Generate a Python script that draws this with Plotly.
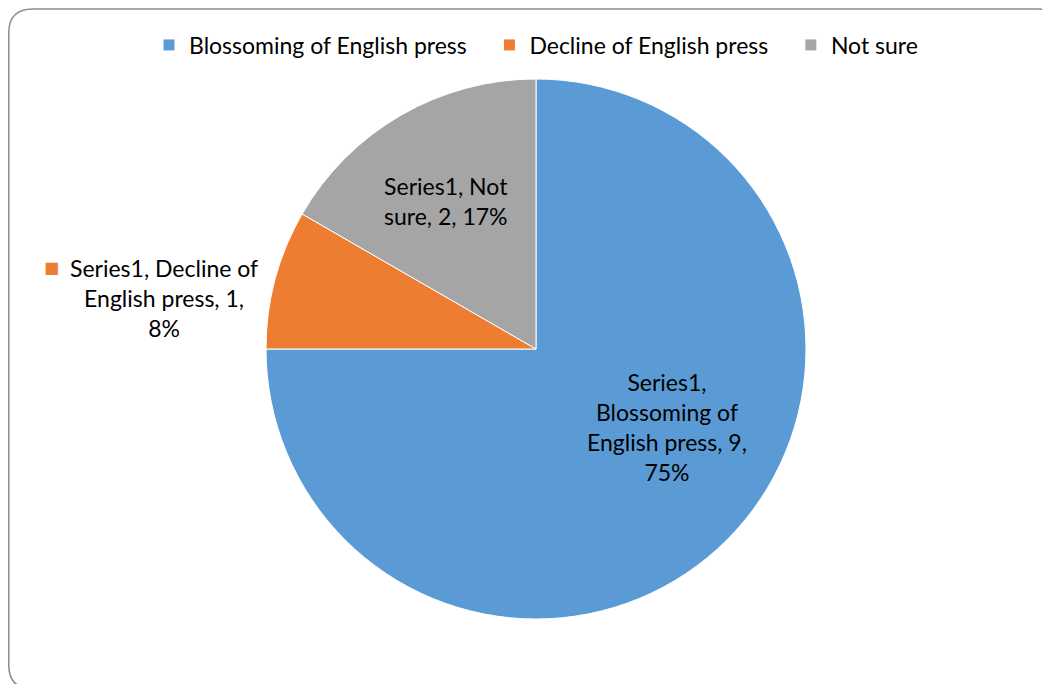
import plotly.graph_objects as go

categories = ["Blossoming of English press", "Decline of English press", "Not sure"]
values = [9, 1, 2]
series_name = "Series1"
colors = ["#5B9BD5", "#ED7D31", "#A5A5A5"]

W, H = 1050, 684
OFF = 8  # page body margin offset
FONT = "Lato, 'Open Sans', sans-serif"
FS = 23

total = sum(values)
pcts = [round(v / total * 100) for v in values]


def px(x):
    return (x - OFF) / W


def py(y):
    return 1 - (y - OFF) / H


# legend entries padded so item spacing matches the original layout
legend_labels = [c + "\u00a0" * 3 if i < len(categories) - 1 else c
                 for i, c in enumerate(categories)]

fig = go.Figure()
fig.add_trace(go.Pie(
    labels=legend_labels,
    values=values,
    sort=False,
    direction="clockwise",
    rotation=0,
    marker=dict(colors=colors, line=dict(color="white", width=1)),
    textinfo="none",
    hovertemplate="%{customdata}: %{value} (%{percent})<extra></extra>",
    customdata=categories,
    domain=dict(x=[px(266), px(806)], y=[py(619), py(79)]),
    showlegend=True,
))

label_lines = [
    [f"{series_name},", "Blossoming of", f"English press, {values[0]},", f"{pcts[0]}%"],
    [f"{series_name}, Decline of", f"English press, {values[1]},", f"{pcts[1]}%"],
    [f"{series_name}, Not", f"sure, {values[2]}, {pcts[2]}%"],
]
label_pos = [(667, 427), (164, 298), (446, 201)]

annotations = []
for lines, (lx, ly) in zip(label_lines, label_pos):
    annotations.append(dict(
        x=px(lx), y=py(ly), xref="paper", yref="paper",
        text="<br>".join(lines), showarrow=False, align="center",
        xanchor="center", yanchor="middle",
        font=dict(family=FONT, size=FS, color="#000000"),
    ))
annotations.append(dict(
    x=px(51), y=py(268), xref="paper", yref="paper",
    text="■", showarrow=False, xanchor="center", yanchor="middle",
    font=dict(family="DejaVu Sans", size=16, color=colors[1]),
))

# rounded chart border
x0, y0, x1, y1, r = 8.75, 9, 1062, 689, 24
path = (
    f"M {px(x0 + r)},{py(y0)} L {px(x1 - r)},{py(y0)} "
    f"Q {px(x1)},{py(y0)} {px(x1)},{py(y0 + r)} "
    f"L {px(x1)},{py(y1 - r)} Q {px(x1)},{py(y1)} {px(x1 - r)},{py(y1)} "
    f"L {px(x0 + r)},{py(y1)} Q {px(x0)},{py(y1)} {px(x0)},{py(y1 - r)} "
    f"L {px(x0)},{py(y0 + r)} Q {px(x0)},{py(y0)} {px(x0 + r)},{py(y0)} Z"
)

fig.update_layout(
    width=W, height=H,
    margin=dict(l=0, r=0, t=0, b=0),
    paper_bgcolor="white",
    plot_bgcolor="white",
    font=dict(family=FONT, size=FS, color="#000000"),
    legend=dict(
        orientation="h", x=px(536), xanchor="center", y=py(45), yanchor="middle",
        font=dict(family=FONT, size=FS, color="#000000"),
        itemwidth=30, traceorder="normal",
    ),
    annotations=annotations,
    shapes=[dict(type="path", path=path, xref="paper", yref="paper",
                 line=dict(color="#8C8C8C", width=1.5), layer="below")],
)

fig.write_html("out.html")
